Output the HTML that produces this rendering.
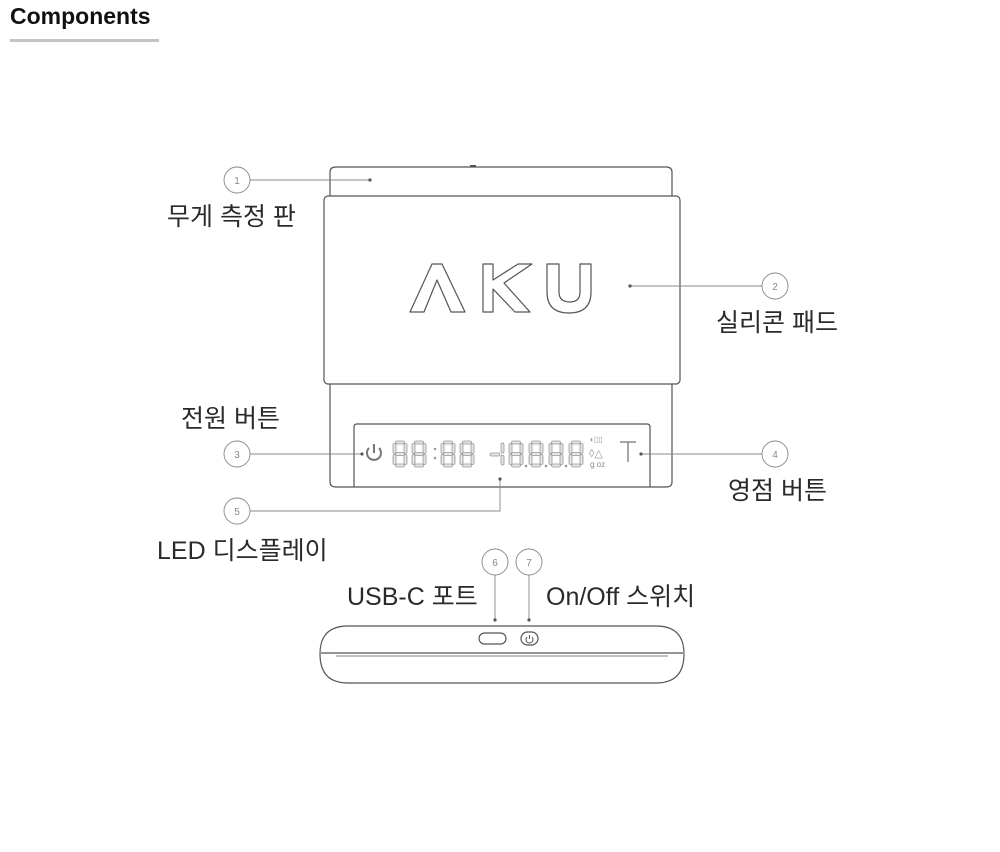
<!DOCTYPE html>
<html><head><meta charset="utf-8"><style>
html,body{margin:0;padding:0;background:#fff;}
svg{display:block}
.lbl{font-family:"Liberation Sans","Noto Sans CJK KR",sans-serif;font-size:25px;fill:#2a2a2a;}
.num{font-family:"Liberation Sans",sans-serif;font-size:10px;fill:#888;text-anchor:middle}
</style></head><body>
<svg width="1000" height="852" viewBox="0 0 1000 852" xmlns="http://www.w3.org/2000/svg">
<defs>
<g id="dg" fill="#e4e4e4" stroke="#999" stroke-width="0.8">
<rect x="2.5" y="0" width="9" height="3" rx="1.5"/>
<rect x="0" y="2.5" width="3" height="10" rx="1.5"/>
<rect x="11" y="2.5" width="3" height="10" rx="1.5"/>
<rect x="2.5" y="11.5" width="9" height="3" rx="1.5"/>
<rect x="0" y="13.5" width="3" height="10" rx="1.5"/>
<rect x="11" y="13.5" width="3" height="10" rx="1.5"/>
<rect x="2.5" y="23" width="9" height="3" rx="1.5"/>
</g>
</defs>
<text x="10" y="24" font-family="Liberation Sans,sans-serif" font-weight="bold" font-size="23" fill="#111">Components</text>
<rect x="10" y="39" width="149" height="3" fill="#c4c4c4"/>

<g fill="none" stroke="#555" stroke-width="1.2">
<path d="M330 196 V172 Q330 167 336 167 H666 Q672 167 672 172 V196"/>
<line x1="470" y1="166" x2="476" y2="166" stroke-width="2"/>
<rect x="324" y="196" width="356" height="188" rx="4"/>
<path d="M330 384 V482 Q330 487 336 487 H666 Q672 487 672 482 V384"/>
<path d="M354 487 V427 Q354 424 357 424 H647 Q650 424 650 427 V487"/>
</g>
<g fill="none" stroke="#555" stroke-width="1.2" stroke-linejoin="round">
<path d="M410 312 L432 264 H442 L465 312 H451 L437 280 L424 312 Z"/>
<path d="M483 264 H493 V280 L518 264 H532 L504 283 L530 312 H515 L493 289 V312 H483 Z"/>
<path d="M547 264 H559 V292 Q559 302 570 302 Q580 302 580 292 V264 H591 V292 Q591 313 569 313 Q547 313 547 292 Z"/>
</g>

<g fill="none" stroke="#777" stroke-width="2">
<path d="M369 448 A7 7 0 1 0 379 448"/>
<line x1="374" y1="444" x2="374" y2="453"/>
</g>
<use href="#dg" x="393" y="441"/><use href="#dg" x="412" y="441"/>
<circle cx="435" cy="449" r="1.3" fill="#999"/><circle cx="435" cy="458" r="1.3" fill="#999"/>
<use href="#dg" x="441" y="441"/><use href="#dg" x="460" y="441"/>
<rect x="490" y="453" width="10" height="3" rx="1.5" fill="#e4e4e4" stroke="#999" stroke-width="0.8"/>
<rect x="501" y="443" width="3" height="10" rx="1.5" fill="#e4e4e4" stroke="#999" stroke-width="0.8"/>
<rect x="501" y="455" width="3" height="10" rx="1.5" fill="#e4e4e4" stroke="#999" stroke-width="0.8"/>
<use href="#dg" x="509" y="441"/><circle cx="526" cy="466" r="1.3" fill="#999"/>
<use href="#dg" x="529" y="441"/><circle cx="546" cy="466" r="1.3" fill="#999"/>
<use href="#dg" x="549" y="441"/><circle cx="566" cy="466" r="1.3" fill="#999"/>
<use href="#dg" x="569" y="441"/>
<text x="589" y="442" font-family="Liberation Sans,sans-serif" font-size="8" fill="#999">◖▯▯</text>
<text x="589" y="457" font-family="Liberation Sans,sans-serif" font-size="11" fill="#999">◊△</text>
<text x="590" y="467" font-family="Liberation Sans,sans-serif" font-size="8" fill="#888">g oz</text>
<g stroke="#888" stroke-width="1.5" fill="none"><path d="M620 442 H636 M628 442 V462"/></g>

<g stroke="#888" stroke-width="0.9" fill="none">
<circle cx="237" cy="180" r="13"/><line x1="250" y1="180" x2="370" y2="180"/>
<circle cx="775" cy="286" r="13"/><line x1="630" y1="286" x2="762" y2="286"/>
<circle cx="237" cy="454" r="13"/><line x1="250" y1="454" x2="362" y2="454"/>
<circle cx="775" cy="454" r="13"/><line x1="641" y1="454" x2="762" y2="454"/>
<circle cx="237" cy="511" r="13"/><path d="M250 511 H500 V479"/>
<circle cx="495" cy="562" r="13"/><line x1="495" y1="575" x2="495" y2="620"/>
<circle cx="529" cy="562" r="13"/><line x1="529" y1="575" x2="529" y2="620"/>
</g>
<g fill="#555">
<circle cx="370" cy="180" r="1.6"/><circle cx="630" cy="286" r="1.6"/><circle cx="362" cy="454" r="1.6"/>
<circle cx="641" cy="454" r="1.6"/><circle cx="500" cy="479" r="1.6"/><circle cx="495" cy="620" r="1.6"/><circle cx="529" cy="620" r="1.6"/>
</g>
<text class="num" x="237" y="184">1</text><text class="num" x="775" y="290">2</text>
<text class="num" x="237" y="458">3</text><text class="num" x="775" y="458">4</text>
<text class="num" x="237" y="515">5</text><text class="num" x="495" y="566">6</text><text class="num" x="529" y="566">7</text>

<text class="lbl" x="167" y="225">무게 측정 판</text>
<text class="lbl" x="716" y="331">실리콘 패드</text>
<text class="lbl" x="181" y="427">전원 버튼</text>
<text class="lbl" x="728" y="499">영점 버튼</text>
<text class="lbl" x="157" y="559">LED 디스플레이</text>
<text class="lbl" x="347" y="605">USB-C 포트</text>
<text class="lbl" x="546" y="605">On/Off 스위치</text>

<g fill="none" stroke="#555" stroke-width="1.2">
<path d="M348 626 H656 Q684 626 684 654 Q684 683 656 683 H348 Q320 683 320 654 Q320 626 348 626 Z"/>
<line x1="321" y1="653" x2="683" y2="653"/>
<line x1="336" y1="656" x2="668" y2="656" stroke-width="0.8"/>
<rect x="479" y="633" width="27" height="11" rx="5.5"/>
<rect x="521" y="632" width="17" height="13" rx="6.5"/>
<path d="M527 637 A3.5 3.5 0 1 0 532 637 M529.5 635 V639" stroke-width="1"/>
</g>
</svg>
</body></html>
